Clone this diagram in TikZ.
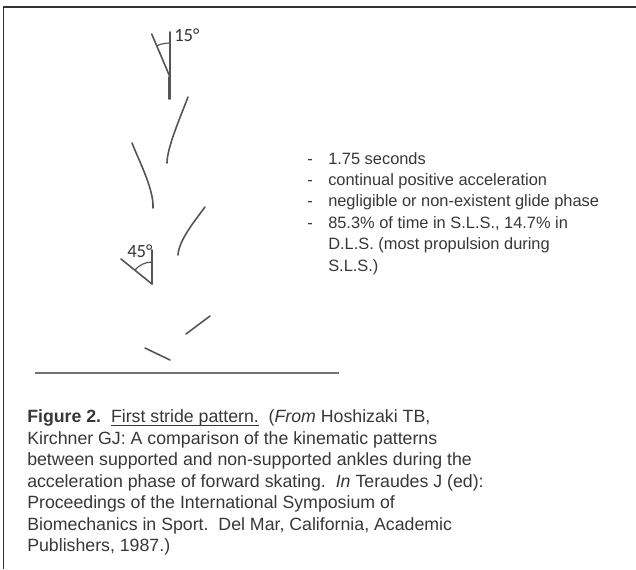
\documentclass[tikz,border=0pt]{standalone}
\usepackage{fontspec}
\setmainfont{Liberation Sans}
\newfontfamily\anglefont{Carlito}
\usepackage{xcolor}
\usetikzlibrary{positioning}
\definecolor{txtgray}{RGB}{55, 55, 55}
\definecolor{strokegray}{RGB}{85, 85, 85}
\definecolor{groundgray}{RGB}{115, 115, 115}
\definecolor{framegray}{RGB}{50, 50, 50}
% underline drawn as a plain rule under the text
\newcommand{\ruleunder}[1]{{\setbox0\hbox{#1}\rlap{\rule[-2.2pt]{\wd0}{0.6pt}}\box0}}

\begin{document}
\begin{tikzpicture}[
        x=0.75pt, y=-0.75pt,
        frame/.style={draw=framegray, line width=1.4pt},
        stroke/.style={draw=strokegray, line width=1.2pt, line cap=round},
        ground/.style={draw=groundgray, line width=2pt},
        anglab/.style={inner sep=0pt, anchor=base west, text=txtgray, font=\anglefont\fontsize{14}{16}\selectfont},
        txt/.style={inner sep=0pt, anchor=base west, align=left, text=txtgray},
    ]
        \useasboundingbox (0,0) rectangle (636,569);

        % Frame: top and left edges only
        \draw[frame] (3.5,7) -- (636,7);
        \draw[frame] (3.5,6) -- (3.5,569);

        % Top stride: 15 degree angle
        \coordinate (apexA) at (170,77);
        \draw[stroke] (170,32) -- (170,99);
        \draw[stroke] (169,77) -- (169,99);
        \draw[stroke] (151.7,34) -- (apexA);
        \draw[strokegray, line width=0.9pt] (170,43) arc[start angle=-90, end angle=-113, radius=34];
        \node[anglab] (lab15) at (174,41) {15°};

        % Middle strides
        \draw[stroke] (188,97) .. controls (180,118) and (167,148) .. (167,163);
        \draw[stroke] (132,143) .. controls (140,163) and (154,190) .. (153,208);
        \draw[stroke] (205,207) .. controls (194,222) and (179,240) .. (178,255);

        % Lower stride: 45 degree angle
        \coordinate (apexB) at (152,284);
        \draw[stroke] (152,250) -- (apexB);
        \draw[stroke] (121,259) -- (apexB);
        \draw[strokegray, line width=0.9pt] (152,262) arc[start angle=-90, end angle=-141, radius=22];
        \node[anglab] (lab45) at (127,257) {45°};

        % Last strides and the ground line
        \draw[stroke] (210,316) -- (186,334);
        \draw[stroke] (145,348) -- (170,360);
        \draw[ground] (35,373) -- (339,373);

        % Notes beside the pattern (anchored at the last line)
        \node[txt, font=\fontsize{12.3}{16.05}\selectfont] (notes) at (307,271) {%
            \makebox[15.75pt][l]{-}1.75 seconds\\
            \makebox[15.75pt][l]{-}continual positive acceleration\\
            \makebox[15.75pt][l]{-}negligible or non-existent glide phase\\
            \makebox[15.75pt][l]{-}85.3\% of time in S.L.S., 14.7\% in\\
            \makebox[15.75pt][l]{}D.L.S. (most propulsion during\\
            \makebox[15.75pt][l]{}S.L.S.)};

        % Caption (anchored at the last line)
        \node[txt, font=\fontsize{13.3}{16.1}\selectfont] (caption) at (27,551.7) {%
            \textbf{Figure 2.}\ \ \ruleunder{First stride pattern.}\ \ (\textit{From} Hoshizaki TB,\\
            Kirchner GJ: A comparison of the kinematic patterns\\
            between supported and non-supported ankles during the\\
            acceleration phase of forward skating.\ \ \textit{In} Teraudes J (ed):\\
            Proceedings of the International Symposium of\\
            Biomechanics in Sport.\ \ Del Mar, California, Academic\\
            Publishers, 1987.)};
    \end{tikzpicture}
\end{document}
